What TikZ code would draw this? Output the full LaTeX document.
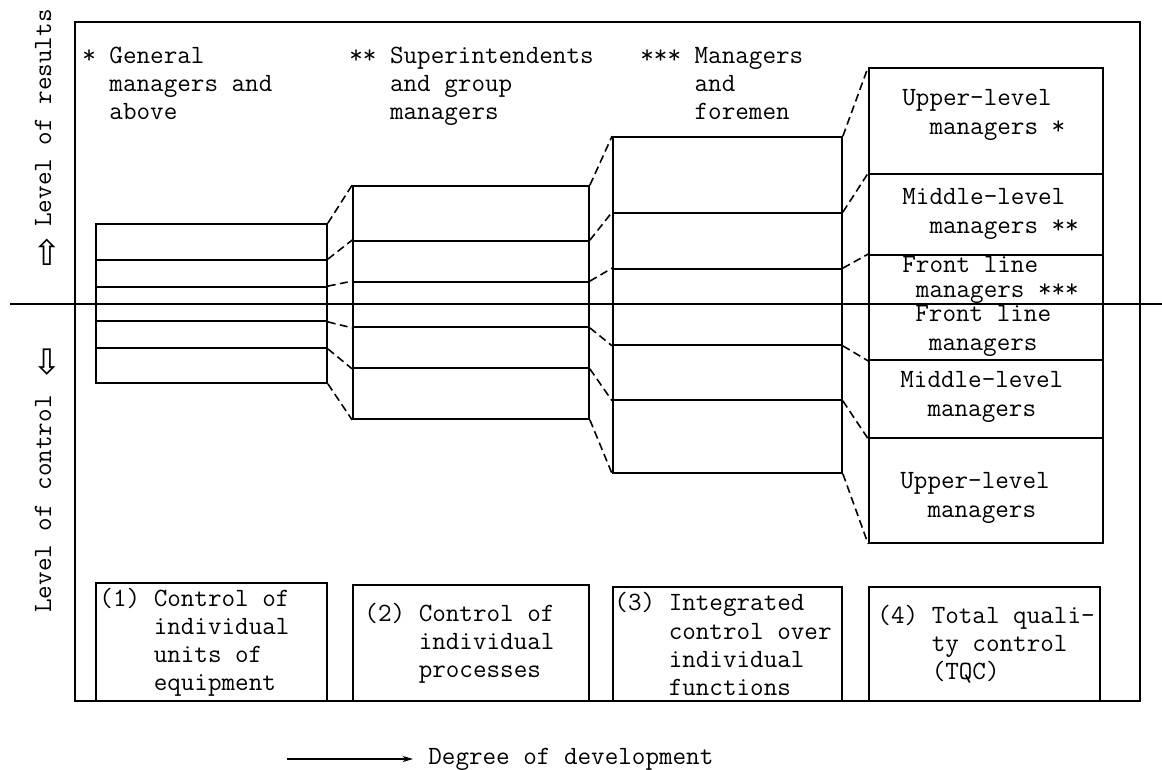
\documentclass[tikz,border=0pt]{standalone}
\usepackage{fontspec}
\newfontfamily\arrowfont{DejaVu Sans}
\usetikzlibrary{arrows.meta, positioning}

\begin{document}
\begin{tikzpicture}[
  x=0.02cm, y=-0.02cm,
  every node/.style={font=\fontsize{15}{16}\selectfont\ttfamily, inner sep=0pt},
  cell/.style={draw, line width=1pt, inner sep=0pt},
  stage/.style={draw, line width=1pt, inner sep=0pt},
  txt/.style={align=left},
  conn/.style={line width=0.9pt, dash pattern=on 4.5pt off 2.5pt},
  arr/.style={-{Stealth[length=6pt, width=3.5pt]}, line width=0.6pt},
]
  \useasboundingbox (0,0) rectangle (1162,770);

  % Outer frame and axis
  \draw[line width=1pt] (75,22) rectangle (1140,701);

  % Manager stacks, one column per stage
  \foreach \c/\xl/\xr/\cells in {
    a/96/327/{224/260, 260/287, 287/304, 304/321, 321/348, 348/383},
    b/353/589/{186/241, 241/282, 282/304, 304/327, 327/368, 368/419},
    c/613/842/{137/213, 213/269, 269/304, 304/345, 345/400, 400/473},
    d/869/1103/{68/174, 174/255, 255/304, 304/360, 360/438, 438/543}} {
    \foreach \yt/\yb [count=\k] in \cells
      \node[cell, minimum width={(\xr-\xl)*0.02cm}, minimum height={(\yb-\yt)*0.02cm}]
        (\c\k) at ({(\xl+\xr)/2}, {(\yt+\yb)/2}) {};
  }

  % Dashed links between stacks
  \foreach \p/\n in {a/b, b/c, c/d} {
    \foreach \k in {1,2,3} \draw[conn] (\p\k.north east) -- (\n\k.north west);
    \foreach \k in {4,5,6} \draw[conn] (\p\k.south east) -- (\n\k.south west);
  }

  \draw[line width=0.8pt] (10,304) -- (1162,304);

  % Labels in the last stack
  \node[txt, anchor=west] (l1) at (902,115) {Upper-level\\\hphantom{xx}managers *};
  \node[txt, anchor=west] (l2) at (902,214) {Middle-level\\\hphantom{xx}managers **};
  \node[txt, anchor=west] (l3) at (902,280) {Front line\\[-1.8pt]\hphantom{x}managers ***};
  \node[txt, anchor=west] (l4) at (915,331) {Front line\\\hphantom{x}managers};
  \node[txt, anchor=west] (l5) at (900,397) {Middle-level\\\hphantom{xx}managers};
  \node[txt, anchor=west] (l6) at (900,498) {Upper-level\\\hphantom{xx}managers};

  % Headers
  \node[txt, anchor=north west] (h1) at (82,47)
       {* General\\\hphantom{xx}managers and\\\hphantom{xx}above};
  \node[txt, anchor=north west] (h2) at (349,47)
       {** Superintendents\\\hphantom{xxx}and group\\\hphantom{xxx}managers};
  \node[txt, anchor=north west] (h3) at (640,47)
       {*** Managers\\\hphantom{xxxx}and\\\hphantom{xxxx}foremen};

  % Stages of development
  \foreach \s/\xl/\xr/\yt in {1/96/327/583, 2/353/589/585, 3/613/842/587, 4/869/1100/587}
    \node[stage, minimum width={(\xr-\xl)*0.02cm}, minimum height={(701-\yt)*0.02cm}]
      (s\s) at ({(\xl+\xr)/2}, {(\yt+701)/2}) {};

  \node[txt, right=0.08cm of s1.west] (q1)
       {(1) Control of\\\hphantom{xxxx}individual\\\hphantom{xxxx}units of\\\hphantom{xxxx}equipment};
  \node[txt, right=0.24cm of s2.west] (q2)
       {(2) Control of\\\hphantom{xxxx}individual\\\hphantom{xxxx}processes};
  \node[txt, right=0.04cm of s3.west] (q3)
       {(3) Integrated\\\hphantom{xxxx}control over\\\hphantom{xxxx}individual\\\hphantom{xxxx}functions};
  \node[txt, right=0.18cm of s4.west] (q4)
       {(4) Total quali-\\\hphantom{xxxx}ty control\\\hphantom{xxxx}(TQC)};

  % Left axis labels
  \node[rotate=90] (res) at (43,118) {Level of results};
  \node[font=\arrowfont\fontsize{20}{20}\selectfont] (up) at (47,252) {⇧};
  \node[rotate=90] (ctl) at (43,504) {Level of control};
  \node[font=\arrowfont\fontsize{20}{20}\selectfont] (dn) at (47,362) {⇩};

  % Bottom arrow
  \coordinate (devtail) at (287,759);
  \node[anchor=west, inner xsep=0.3cm] (deg) at (413,759) {Degree of development};
  \draw[arr] (devtail) -- (deg.west);
\end{tikzpicture}
\end{document}
